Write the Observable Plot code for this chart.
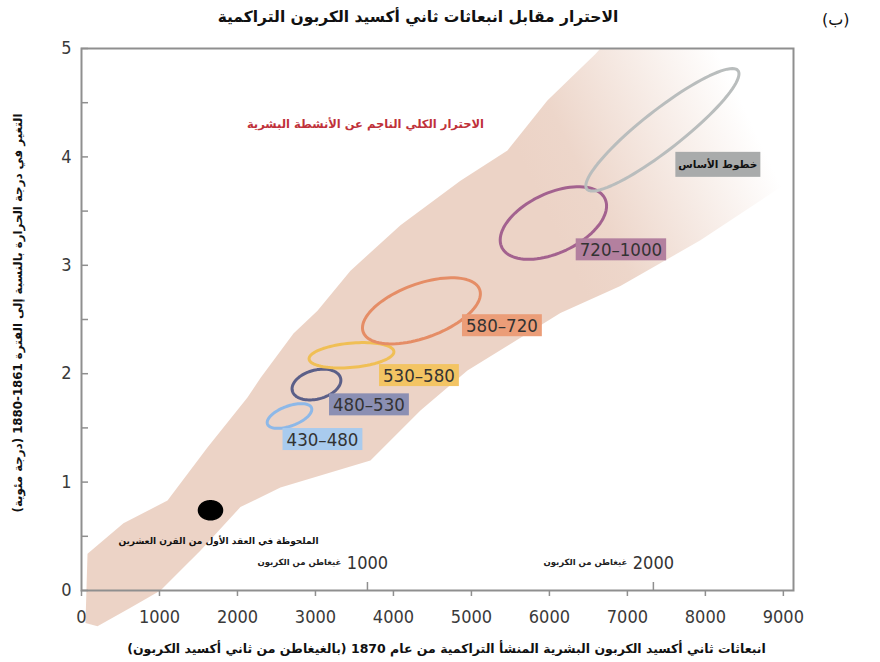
<!DOCTYPE html>
<html><head><meta charset="utf-8">
<script src="https://cdn.jsdelivr.net/npm/d3@7"></script>
<script src="https://cdn.jsdelivr.net/npm/@observablehq/plot@0.6"></script>
<style>
body{margin:0;background:#fff;}
#wrap{position:relative;width:880px;height:662px;overflow:hidden;}
#title{position:absolute;top:0;left:0;width:880px;height:36px;}
#title .t{position:absolute;left:418px;top:8px;transform:translateX(-50%);font:bold 15.5px "DejaVu Sans";direction:rtl;white-space:nowrap;color:#111;}
#title .b{position:absolute;left:822px;top:10px;font:16px "DejaVu Sans";direction:rtl;color:#111;}
#chart{position:absolute;top:36px;left:0;}
</style></head><body>
<div id="wrap">
  <div id="title"><span class="t">الاحترار مقابل انبعاثات ثاني أكسيد الكربون التراكمية</span><span class="b">(ب)</span></div>
  <div id="chart"></div>
</div>
<script>
// ---------- data ----------
const xTicks = [0, 1000, 2000, 3000, 4000, 5000, 6000, 7000, 8000, 9000];
const yTicks = [0, 1, 2, 3, 4, 5];
const yMinorTicks = [0, 0.5, 1, 1.5, 2, 2.5, 3, 3.5, 4, 4.5, 5];
const gtcTicks = [1000, 2000];           // GtC
const co2PerC = 44 / 12;                 // GtCO2 per GtC
const gtcUnit = "غيغاطن من الكربون";

// shaded band (cumulative CO2, warming)
const bandX = [51, 77, 538, 1103, 1615, 2128, 2295, 2718, 3026, 3449, 4090, 4859, 5462, 5974, 6590, 6654, 8700, 9130, 9130, 7936, 6910, 6141, 4949, 4346, 3705, 2551, 2038, 1526, 1013, 628, 205];
const bandY = [-0.30, 0.34, 0.62, 0.83, 1.32, 1.78, 1.96, 2.37, 2.58, 2.95, 3.37, 3.78, 4.06, 4.52, 4.95, 5.0, 5.0, 4.5, 3.8, 3.23, 2.81, 2.56, 2.03, 1.66, 1.20, 0.95, 0.77, 0.37, 0.0, -0.16, -0.33];

// scenario ellipses (ppm CO2-eq categories)
const ellipseLabels = ["430–480", "480–530", "530–580", "580–720", "720–1000", "خطوط الأساس"];
const ellipseCX = [2667, 3013, 3462, 4359, 6051, 7449];
const ellipseCY = [1.61, 1.90, 2.17, 2.58, 3.39, 4.25];
const ellipseHalfW = [286, 313, 544, 756, 682, 982];
const ellipseHalfH = [0.114, 0.142, 0.117, 0.305, 0.335, 0.565];
const ellipsePhase = [58, 74, 74, 59, 62, 24];
const labelX = [3090, 3686, 4327, 5391, 6917, 8160];
const labelY = [1.39, 1.71, 1.98, 2.44, 3.14, 3.93];

// observed 2000s
const obsX = 1654, obsY = 0.74, obsHalfW = 154, obsHalfH = 0.088;
const obsLabel = "الملحوظة في العقد الأول من القرن العشرين";
const obsLabelX = 1756, obsLabelY = 0.46;

const humanLabel = "الاحترار الكلي الناجم عن الأنشطة البشرية";
const humanLabelX = 3641, humanLabelY = 4.30;

const xTitle = "انبعاثات ثاني أكسيد الكربون البشرية المنشأ التراكمية من عام 1870 (بالغيغاطن من ثاني أكسيد الكربون)";
const yTitle = "التغير في درجة الحرارة بالنسبة إلى الفترة 1861-1880 (درجة مئوية)";

// ---------- styles ----------
const strokeColors = ["#8db8e8", "#5b5f88", "#f0bf55", "#e58d66", "#a3628f", "#b9bdbd"];
const boxColors = ["#a9cbee", "#8b8fb3", "#f3c463", "#eb9d78", "#b3809f", "#a9abab"];
const axisGrey = "#8f8f8f";
const narrow = "'Liberation Sans Narrow', 'DejaVu Sans Condensed', sans-serif";
const arabic = "'DejaVu Sans', sans-serif";

const band = bandX.map((x, i) => ({x, y: bandY[i]}));
const angles = d3.range(0, 361, 4);
function ellipsePoints(cx, cy, hw, hh, ph) {
  const p = ph * Math.PI / 180;
  return angles.map(a => {
    const t = a * Math.PI / 180;
    return {x: cx + hw * Math.cos(t), y: cy + hh * Math.cos(t - p)};
  });
}
const ellipseMarks = ellipseLabels.map((name, i) =>
  Plot.line(ellipsePoints(ellipseCX[i], ellipseCY[i], ellipseHalfW[i], ellipseHalfH[i], ellipsePhase[i]),
    {x: "x", y: "y", stroke: strokeColors[i], strokeWidth: 3, curve: "linear-closed"}));
const labels = ellipseLabels.map((name, i) => ({name, x: labelX[i], y: labelY[i], i}));
const numLabels = labels.slice(0, 5);
const baseLabel = labels.slice(5);

const gtcData = gtcTicks.map(v => ({x: v * co2PerC, label: String(v)}));

const chart = Plot.plot({
  width: 880,
  height: 626,
  marginLeft: 81,
  marginRight: 87,
  marginTop: 12,
  marginBottom: 72,
  x: {domain: [0, 9130], label: null},
  y: {domain: [0, 5], label: null},
  style: {background: "white", overflow: "visible"},
  marks: [
    Plot.line(band, {x: "x", y: "y", fill: "url(#bandGrad)", stroke: "none", curve: "linear-closed"}),
    ...ellipseMarks,
    Plot.line(ellipsePoints(obsX, obsY, obsHalfW, obsHalfH, 90), {x: "x", y: "y", fill: "black", stroke: "black", curve: "linear-closed"}),
    Plot.text(numLabels, {x: "x", y: "y", text: "name", fontSize: 18.5, fontFamily: narrow, fill: "#333", textAnchor: "middle", lineAnchor: "middle"}),
    Plot.text(baseLabel, {x: "x", y: "y", text: "name", fontSize: 10.5, fontWeight: "bold", fontFamily: arabic, fill: "#111", textAnchor: "middle", lineAnchor: "middle"}),
    Plot.text([humanLabel], {x: humanLabelX, y: humanLabelY, text: d => d, fontSize: 11.5, fontWeight: "bold", fontFamily: arabic, fill: "#c0313a", textAnchor: "middle"}),
    Plot.text([obsLabel], {x: obsLabelX, y: obsLabelY, text: d => d, fontSize: 9, fontWeight: "bold", fontFamily: arabic, fill: "#111", textAnchor: "middle"}),
    Plot.text(gtcData, {x: "x", y: 0, text: "label", dy: -27, dx: 0, fontSize: 18, fontFamily: narrow, fill: "#333", lineAnchor: "middle", textAnchor: "middle"}),
    Plot.text(gtcData, {x: "x", y: 0, text: () => gtcUnit, dy: -28, dx: -68, fontSize: 8.5, fontWeight: "bold", fontFamily: arabic, fill: "#222", lineAnchor: "middle", textAnchor: "middle"}),
    Plot.frame({stroke: axisGrey, strokeWidth: 2}),
    Plot.axisX(xTicks, {anchor: "bottom", label: null, tickSize: 6, tickPadding: 14, stroke: axisGrey, strokeWidth: 1.5, fontSize: 18, fontFamily: narrow, fill: "#3a3a3a", tickFormat: d => String(d)}),
    Plot.axisX(gtcData.map(d => d.x), {anchor: "bottom", label: null, tickSize: 8, dy: -8, stroke: axisGrey, strokeWidth: 1.5, tickFormat: () => ""}),
    Plot.axisY(yMinorTicks, {anchor: "left", label: null, tickSize: 7, dx: 7, stroke: axisGrey, strokeWidth: 1.5, tickFormat: () => ""}),
    Plot.axisY(yTicks, {anchor: "left", label: null, tickSize: 0, tickPadding: 10, fontSize: 18, fontFamily: narrow, fill: "#3a3a3a", tickFormat: d => String(d)}),
    Plot.text([yTitle], {frameAnchor: "left", y: 2.56, text: d => d, rotate: -90, dx: -63, fontSize: 11.8, fontWeight: "bold", fontFamily: arabic, fill: "#111", lineAnchor: "middle", textAnchor: "middle"}),
    Plot.text([xTitle], {frameAnchor: "bottom", text: d => d, dy: 58, dx: 9, fontSize: 12.5, fontWeight: "bold", fontFamily: arabic, fill: "#111", lineAnchor: "middle", textAnchor: "middle"})
  ]
});
document.getElementById("chart").appendChild(chart);

// gradient for the band
const ns = "http://www.w3.org/2000/svg";
const defs = document.createElementNS(ns, "defs");
defs.innerHTML = `<linearGradient id="bandGrad" gradientUnits="userSpaceOnUse" x1="540" y1="164" x2="760" y2="60">
  <stop offset="0" stop-color="#ecd3c6"/><stop offset="0.2" stop-color="#edd6ca"/><stop offset="0.92" stop-color="#ffffff"/></linearGradient>`;
chart.insertBefore(defs, chart.firstChild);

// Arabic direction
const arabicRe = /[\u0600-\u06FF]/;
chart.querySelectorAll("text").forEach(t => {
  if (arabicRe.test(t.textContent)) t.setAttribute("direction", "rtl");
});

// label boxes
const sRect = chart.getBoundingClientRect();
const boxG = document.createElementNS(ns, "g");
let labelGroup = null;
chart.querySelectorAll("text").forEach(t => {
  const i = ellipseLabels.indexOf(t.textContent);
  if (i < 0) return;
  const r = t.getBoundingClientRect();
  const isNum = i < 5;
  const w = isNum ? r.width + 8 : 85;
  const h = isNum ? 22 : 25;
  const cx = r.left - sRect.left + r.width / 2;
  const cy = r.top - sRect.top + r.height * (isNum ? 0.49 : 0.5);
  const rect = document.createElementNS(ns, "rect");
  rect.setAttribute("x", cx - w / 2);
  rect.setAttribute("y", cy - h / 2);
  rect.setAttribute("width", w);
  rect.setAttribute("height", h);
  rect.setAttribute("fill", boxColors[i]);
  boxG.appendChild(rect);
  if (!labelGroup) labelGroup = t.parentNode;
});
if (labelGroup) labelGroup.parentNode.insertBefore(boxG, labelGroup);
</script>
</body></html>
